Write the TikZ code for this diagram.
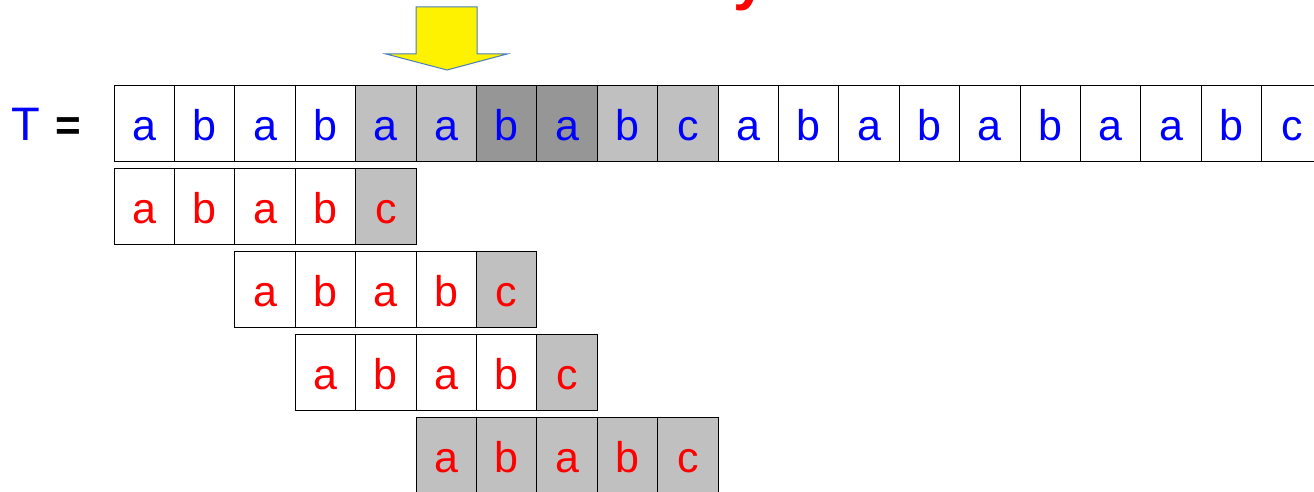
\documentclass[tikz,border=0pt]{standalone}
\usepackage{fontspec}
\setmainfont{Liberation Sans}
\definecolor{lightcell}{RGB}{192,192,192}
\definecolor{darkcell}{RGB}{150,150,150}
\definecolor{txtblue}{RGB}{0,0,255}
\definecolor{txtred}{RGB}{255,0,0}
\definecolor{arrowedge}{RGB}{74,126,187}
\tikzset{
  cell/.style={draw=black, line width=0.9pt, minimum width=60.4pt, minimum height=75.5pt,
    inner sep=0pt, text height=33pt, text depth=0pt, font=\fontsize{43}{43}\selectfont},
  tcell/.style={cell, text=txtblue},
  pcell/.style={cell, text=txtred},
}
\begin{document}
\begin{tikzpicture}[x=1pt,y=-1pt]
\useasboundingbox (0,0) rectangle (1314,492);
% title fragment
\node[anchor=base west, inner sep=0pt, text=txtred, font=\fontsize{60}{60}\selectfont\bfseries] (title) at (733,-1) {y};
% pointer arrow
\draw[fill=yellow, draw=arrowedge, line width=1pt]
  (416,7) -- (477,7) -- (477,54) -- (507,54) -- (447,70) -- (386,54) -- (416,54) -- cycle;
% label
\node[anchor=base west, inner sep=0pt, text=txtblue, font=\fontsize{47}{47}\selectfont] (T) at (11,140) {T};
\node[anchor=base west, inner sep=0pt, font=\fontsize{44}{44}\selectfont\bfseries] (eq) at (55,140) {=};
% text row
\foreach \ch [count=\i] in {a,b,a,b,a,a,b,a,b,c,a,b,a,b,a,b,a,a,b,c}{
  \ifnum\i<5 \def\fc{white}\else\ifnum\i<7 \def\fc{lightcell}\else\ifnum\i<9 \def\fc{darkcell}\else\ifnum\i<11 \def\fc{lightcell}\else\def\fc{white}\fi\fi\fi\fi
  \node[tcell, fill=\fc] (t\i) at ({114+60.4*(\i-1)+30.2},123.5) {\ch};
}
% pattern rows
\foreach \row/\start/\yy in {1/1/206.5, 2/3/289.5, 3/4/372.5, 4/6/455.5}{
  \foreach \ch [count=\j] in {a,b,a,b,c}{
    \ifnum\row=4 \def\fc{lightcell}\else\ifnum\j=5 \def\fc{lightcell}\else\def\fc{white}\fi\fi
    \node[pcell, fill=\fc] (p\row-\j) at ({114+60.4*(\start+\j-2)+30.2},\yy) {\ch};
  }
}
\end{tikzpicture}
\end{document}
